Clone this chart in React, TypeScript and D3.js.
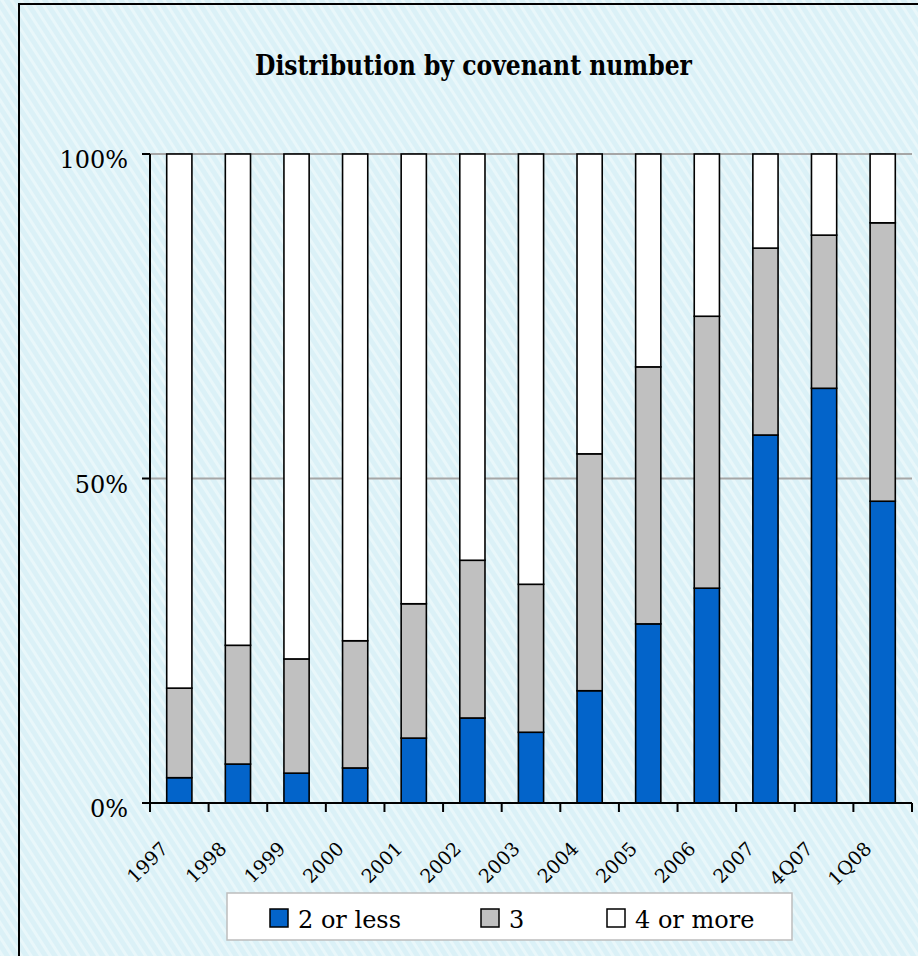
import React from 'react';
import * as d3 from 'd3';

const W = 918;
const H = 956;

const categories = ['1997', '1998', '1999', '2000', '2001', '2002', '2003', '2004', '2005', '2006', '2007', '4Q07', '1Q08'];
// share of deals (%) by covenant count
const twoOrLess = [3.9, 6.0, 4.6, 5.4, 10.0, 13.1, 10.9, 17.3, 27.6, 33.1, 56.7, 63.9, 46.5];
const three = [13.8, 18.3, 17.6, 19.6, 20.7, 24.3, 22.8, 36.5, 39.6, 41.9, 28.8, 23.6, 42.9];
const fourOrMore = [82.3, 75.7, 77.8, 75.0, 69.3, 62.6, 66.3, 46.2, 32.8, 25.0, 14.5, 12.5, 10.6];
const seriesNames = ['2 or less', '3', '4 or more'];
const seriesColors = ['#0364CA', '#C0C0C0', '#FFFFFF'];
const yTicks = [0, 50, 100];

const margin = { left: 150, right: 6, top: 154, bottom: 153 };
const serif = "'DejaVu Serif', 'Liberation Serif', serif";

const App = () => {
  const rows = categories.map((c, i) => ({
    cat: c,
    '2 or less': twoOrLess[i],
    '3': three[i],
    '4 or more': fourOrMore[i],
  }));

  const stacked = d3.stack<any>().keys(seriesNames)(rows);

  const xScale = d3.scaleBand()
    .domain(categories)
    .range([margin.left, W - margin.right])
    .paddingInner(0.57)
    .paddingOuter(0.285);

  const yScale = d3.scaleLinear()
    .domain([0, 100])
    .range([H - margin.bottom, margin.top]);

  const step = xScale.step();
  const tickXs = d3.range(categories.length + 1).map(i => margin.left + i * step);
  const y0 = yScale(0);

  return (
    <svg width={W} height={H} style={{ position: 'absolute', left: 0, top: 0, fontFamily: serif }}>
      <defs>
        <pattern id='stripes' width='8' height='8' patternUnits='userSpaceOnUse' patternTransform='rotate(-33)'>
          <rect width='8' height='8' fill='#DBF1F7' />
          <rect width='3' height='8' fill='#E9F7FA' />
        </pattern>
      </defs>
      <rect x='0' y='0' width={W} height={H} fill='url(#stripes)' />
      <rect x='19' y='4' width={W + 20} height={H + 20} fill='none' stroke='#000' strokeWidth='2' />

      <text x='255' y='75' textLength='437' lengthAdjust='spacingAndGlyphs' style={{ fontFamily: serif, fontWeight: 'bold', fontSize: 27 }}>
        Distribution by covenant number
      </text>

      {/* grid */}
      {yTicks.filter(t => t > 0).map(t => (
        <line key={t} x1={margin.left} x2={W - margin.right} y1={yScale(t)} y2={yScale(t)} stroke='#A6A6A6' strokeWidth='2' />
      ))}

      {/* bars */}
      {stacked.map((s, si) => (
        <g key={s.key}>
          {s.map((d, i) => (
            <rect key={i}
              x={xScale(categories[i])}
              y={yScale(d[1])}
              width={xScale.bandwidth()}
              height={yScale(d[0]) - yScale(d[1])}
              fill={seriesColors[si]}
              stroke='#000'
              strokeWidth='1.6' />
          ))}
        </g>
      ))}

      {/* y axis */}
      <line x1={margin.left} x2={margin.left} y1={yScale(100)} y2={y0} stroke='#000' strokeWidth='2' />
      {yTicks.map(t => (
        <g key={t}>
          <line x1={margin.left - 8} x2={margin.left} y1={yScale(t)} y2={yScale(t)} stroke='#000' strokeWidth='2' />
          <text x={128} y={yScale(t) + 14} textAnchor='end' style={{ fontFamily: serif, fontSize: 24 }}>{`${t}%`}</text>
        </g>
      ))}

      {/* x axis */}
      <line x1={margin.left} x2={W - margin.right} y1={y0} y2={y0} stroke='#000' strokeWidth='2' />
      {tickXs.map((x, i) => (
        <line key={i} x1={x} x2={x} y1={y0} y2={y0 + 9} stroke='#000' strokeWidth='2' />
      ))}
      {categories.map(c => {
        const cx = (xScale(c) as number) + xScale.bandwidth() / 2 - 10;
        return (
          <text key={c} transform={`translate(${cx},${y0 + 47}) rotate(-45)`} textAnchor='end' style={{ fontFamily: serif, fontSize: 19 }}>
            {c}
          </text>
        );
      })}

      {/* legend */}
      <rect x='227' y='893' width='565' height='47' fill='#fff' stroke='#BDBDBD' strokeWidth='1.5' />
      {seriesNames.map((n, i) => {
        const lx = [270, 481, 607][i];
        return (
          <g key={n}>
            <rect x={lx} y='909' width='18' height='18' fill={seriesColors[i]} stroke='#000' strokeWidth='1.5' />
            <text x={lx + 28} y='928' style={{ fontFamily: serif, fontSize: 24 }}>{n}</text>
          </g>
        );
      })}
    </svg>
  );
};

export default App;
